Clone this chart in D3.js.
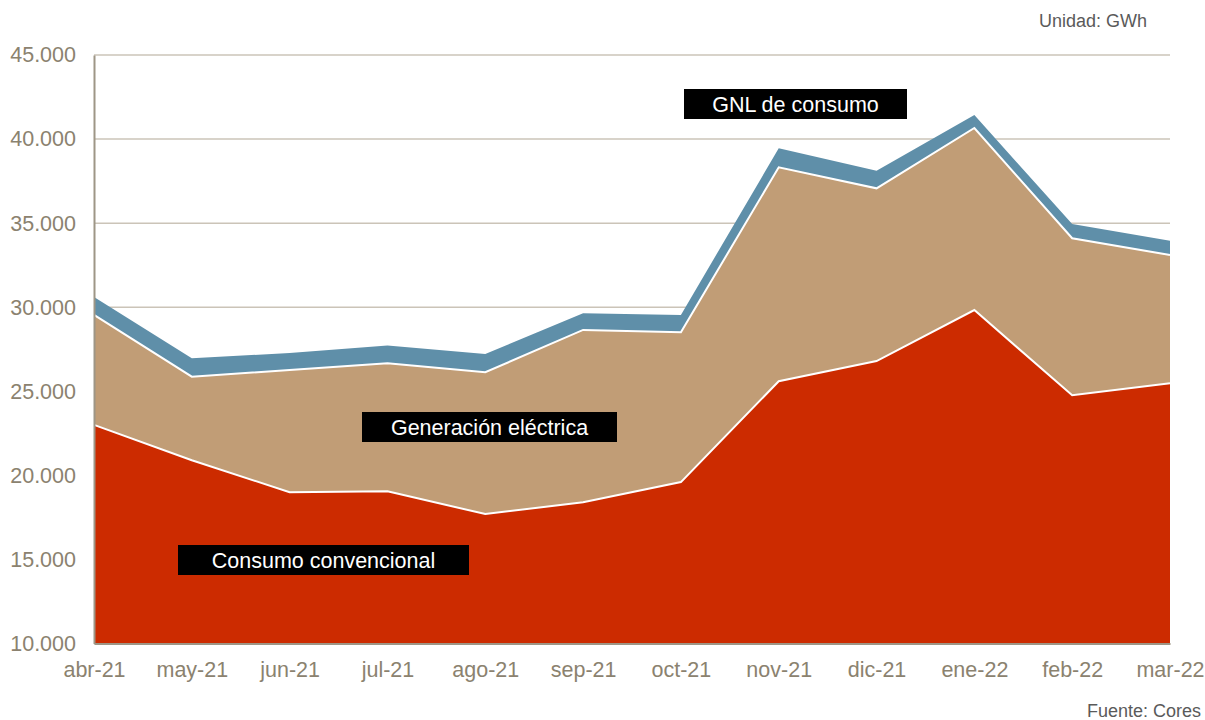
<!DOCTYPE html>
<html lang="es">
<head>
<meta charset="utf-8">
<script src="https://cdn.jsdelivr.net/npm/d3@7"></script>
<style>
  html, body { margin: 0; padding: 0; background: #ffffff; }
  svg { display: block; font-family: "Liberation Sans", Arial, sans-serif; }
</style>
</head>
<body>
<svg id="chart" width="1205" height="720"></svg>
<script>
// Monthly natural gas demand by use, GWh
const months = ["abr-21", "may-21", "jun-21", "jul-21", "ago-21", "sep-21",
                "oct-21", "nov-21", "dic-21", "ene-22", "feb-22", "mar-22"];
const consumoConvencional = [23000, 20900, 19000, 19050, 17700, 18400,
                             19600, 25600, 26800, 29830, 24760, 25480];
const generacionElectrica = [6540, 4970, 7270, 7620, 8430, 10250,
                             8910, 12720, 10270, 10830, 9340, 7630];
const gnlConsumo = [1070, 1090, 1010, 1050, 1090, 990,
                    1030, 1130, 1050, 770, 850, 850];
const yTicks = [10000, 15000, 20000, 25000, 30000, 35000, 40000, 45000];
const seriesNames = ["Consumo convencional", "Generación eléctrica", "GNL de consumo"];

const rows = months.map((m, i) => ({
  mes: m,
  conv: consumoConvencional[i],
  gen: generacionElectrica[i],
  gnl: gnlConsumo[i]
}));
const keys = ["conv", "gen", "gnl"];
const colors = { conv: "#cc2b00", gen: "#c19d76", gnl: "#5f8fa9" };

const svg = d3.select("#chart");
const plotLeft = 94, plotRight = 1170, plotTop = 55, plotBottom = 643.5;

const x = d3.scalePoint().domain(months).range([plotLeft, plotRight]);
const y = d3.scaleLinear().domain([10000, 45000]).range([plotBottom, plotTop]);
const yMin = y.domain()[0];

const es = d3.formatLocale({ decimal: ",", thousands: ".", grouping: [3], currency: ["", " €"] });
const fmt = es.format(",.0f");

// horizontal gridlines
svg.append("g")
  .selectAll("line")
  .data(yTicks)
  .join("line")
  .attr("x1", plotLeft).attr("x2", plotRight)
  .attr("y1", d => y(d)).attr("y2", d => y(d))
  .attr("stroke", "#cbc4b8").attr("stroke-width", 1.5);

// stacked areas (baseline cut at the axis minimum)
const stacked = d3.stack().keys(keys)(rows);
const area = d3.area()
  .x(d => x(d.data.mes))
  .y0(d => y(Math.max(d[0], yMin)))
  .y1(d => y(d[1]));

svg.append("g")
  .selectAll("path")
  .data(stacked)
  .join("path")
  .attr("d", area)
  .attr("fill", d => colors[d.key]);

// white separators between layers
const edge = d3.line()
  .x(d => x(d.data.mes))
  .y(d => y(d[1]));
svg.append("g")
  .selectAll("path")
  .data(stacked.slice(0, 2))
  .join("path")
  .attr("d", edge)
  .attr("fill", "none")
  .attr("stroke", "#ffffff")
  .attr("stroke-width", 2);

// axes
const axisColor = "#9e9686";
const tickColor = "#8b826f";
const tickFont = "21.5px";

const yAxis = svg.append("g")
  .attr("transform", `translate(${plotLeft},0)`)
  .call(d3.axisLeft(y).tickValues(yTicks).tickFormat(fmt).tickSize(0).tickPadding(18));
yAxis.select(".domain").attr("stroke", axisColor).attr("stroke-width", 2);
yAxis.selectAll("text")
  .attr("fill", tickColor)
  .style("font-size", tickFont)
  .style("font-family", "'Liberation Sans', Arial, sans-serif");

const xAxis = svg.append("g")
  .attr("transform", `translate(0,${plotBottom})`)
  .call(d3.axisBottom(x).tickSize(0).tickPadding(18));
xAxis.select(".domain").attr("stroke", axisColor).attr("stroke-width", 2);
xAxis.selectAll("text")
  .attr("fill", tickColor)
  .style("font-size", tickFont)
  .style("font-family", "'Liberation Sans', Arial, sans-serif");

// series labels
const labels = [
  { text: seriesNames[2], x0: 684, x1: 907, y0: 89 },
  { text: seriesNames[1], x0: 362, x1: 617, y0: 412 },
  { text: seriesNames[0], x0: 178, x1: 469, y0: 545 }
];
const lab = svg.append("g").selectAll("g").data(labels).join("g");
lab.append("rect")
  .attr("x", d => d.x0).attr("y", d => d.y0)
  .attr("width", d => d.x1 - d.x0).attr("height", 30)
  .attr("fill", "#000000");
lab.append("text")
  .attr("x", d => (d.x0 + d.x1) / 2)
  .attr("y", d => d.y0 + 23)
  .attr("text-anchor", "middle")
  .attr("fill", "#ffffff")
  .style("font-size", "21.5px")
  .text(d => d.text);

// unit and source notes
svg.append("text")
  .attr("x", 1147).attr("y", 27)
  .attr("text-anchor", "end")
  .attr("fill", "#5a5a5a")
  .style("font-size", "18px")
  .text("Unidad: GWh");

svg.append("text")
  .attr("x", 1201).attr("y", 717)
  .attr("text-anchor", "end")
  .attr("fill", "#5a5a5a")
  .style("font-size", "18px")
  .text("Fuente: Cores");
</script>
</body>
</html>
